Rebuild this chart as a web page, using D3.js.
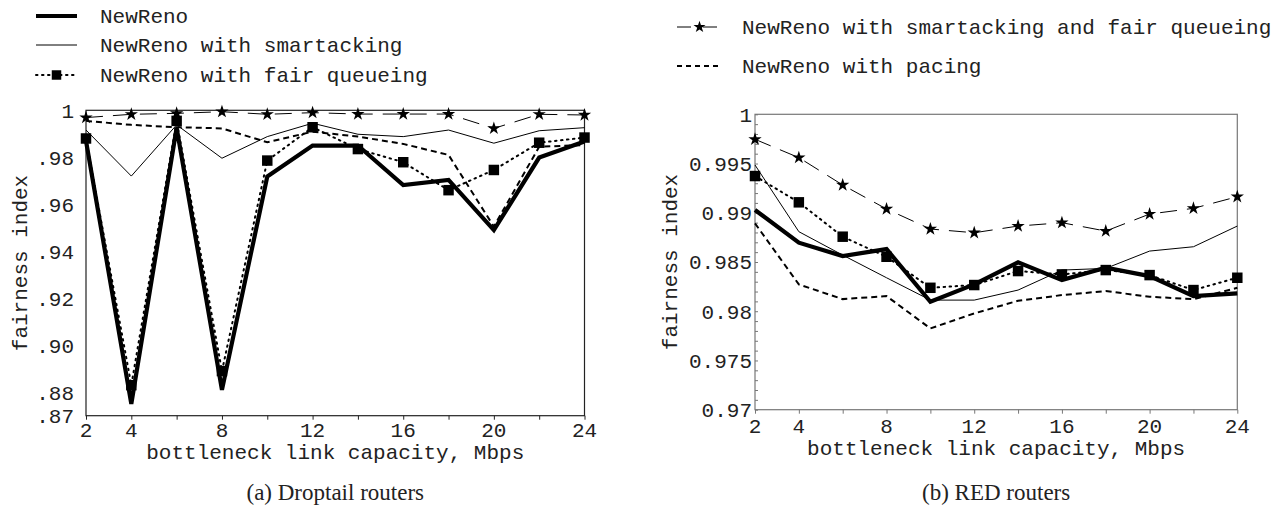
<!DOCTYPE html>
<html><head><meta charset="utf-8">
<script src="https://cdn.jsdelivr.net/npm/d3@7"></script>
<style>
body{margin:0;background:#fff;}
svg text{font-family:"Liberation Mono","DejaVu Sans Mono",monospace;fill:#222;}
</style></head>
<body><svg id="chart" width="1278" height="514"></svg>
<script>
// ---- data ----
const capacities = [2, 4, 6, 8, 10, 12, 14, 16, 18, 20, 22, 24];
const xTickLabels = [2, 4, 8, 12, 16, 20, 24];
const xTickMarks = [2, 4, 6, 8, 10, 12, 14, 16, 18, 20, 22, 24];

const seriesNames = ["NewReno", "NewReno with smartacking", "NewReno with fair queueing",
  "NewReno with smartacking and fair queueing", "NewReno with pacing"];

// (a) Droptail routers
const dtNewReno   = [0.987, 0.875, 0.9925, 0.881, 0.9718, 0.985, 0.985, 0.9682, 0.9704, 0.949, 0.9799, 0.9867];
const dtSmart     = [0.9916, 0.972, 0.9938, 0.9796, 0.9888, 0.9945, 0.9898, 0.9888, 0.9916, 0.986, 0.9913, 0.9926];
const dtFQ        = [0.988, 0.883, 0.9955, 0.889, 0.9786, 0.9928, 0.9835, 0.9779, 0.966, 0.9746, 0.9862, 0.9884];
const dtSmartFQ   = [0.9969, 0.9983, 0.9987, 0.9994, 0.9983, 0.999, 0.9984, 0.9984, 0.9984, 0.9923, 0.9983, 0.998];
const dtPacing    = [0.9955, 0.9938, 0.9928, 0.9923, 0.9864, 0.9909, 0.9888, 0.9857, 0.981, 0.9505, 0.9845, 0.9852];
const dtYTicks    = [1, 0.98, 0.96, 0.94, 0.92, 0.90, 0.88, 0.87];
const dtYLabels   = ["1", ".98", ".96", ".94", ".92", ".90", ".88", ".87"];

// (b) RED routers
const redNewReno  = [0.99028, 0.98696, 0.9856, 0.98631, 0.98096, 0.98272, 0.98496, 0.98316, 0.98442, 0.98357, 0.98154, 0.98181];
const redSmart    = [0.99485, 0.98808, 0.9857, 0.9834, 0.98113, 0.98113, 0.98215, 0.98418, 0.98435, 0.98611, 0.98655, 0.98865];
const redFQ       = [0.99373, 0.99106, 0.98757, 0.98553, 0.98238, 0.98266, 0.98408, 0.98374, 0.98418, 0.98367, 0.98215, 0.9834];
const redSmartFQ  = [0.99746, 0.9956, 0.99282, 0.99038, 0.98835, 0.98797, 0.98865, 0.98899, 0.98814, 0.98987, 0.99045, 0.99163];
const redPacing   = [0.98892, 0.98272, 0.98123, 0.98154, 0.97825, 0.97978, 0.98106, 0.98164, 0.98205, 0.98147, 0.98123, 0.98238];
const redYTicks   = [1, 0.995, 0.99, 0.985, 0.98, 0.975, 0.97];
const redYLabels  = ["1", "0.995", "0.99", "0.985", "0.98", "0.975", "0.97"];
const redYMinor   = d3.range(0, 31).map(i => 0.97 + i * 0.001);

const captions = ["(a) Droptail routers", "(b) RED routers"];
const xTitle = "bottleneck link capacity, Mbps";
const yTitle = "fairness index";

// ---- styles ----
const styles = {
  newreno: {width: 4.2, dash: null},
  smart:   {width: 1, dash: null},
  fq:      {width: 2, dash: "1.5,4.5", marker: "square"},
  smartfq: {width: 1, dash: "17,10", marker: "star"},
  pacing:  {width: 2, dash: "6,4"}
};

const svg = d3.select("#chart");
const FS = 21;

function drawPanel(cfg) {
  const x = d3.scaleLinear().domain([2, 24]).range([cfg.left, cfg.right]);
  const y = d3.scaleLinear().domain(cfg.yDomain).range([cfg.bottom, cfg.top]);
  const g = svg.append("g");

  g.append("rect").attr("x", cfg.left).attr("y", cfg.top)
    .attr("width", cfg.right - cfg.left).attr("height", cfg.bottom - cfg.top)
    .attr("fill", "none").attr("stroke", cfg.frame).attr("stroke-width", 1.2);

  const xAx = d3.axisBottom(x).tickValues(xTickMarks).tickSize(4).tickFormat("");
  const xg = g.append("g").attr("transform", `translate(0,${cfg.bottom})`).call(xAx);
  xg.select(".domain").remove();
  xg.selectAll("line").attr("stroke", cfg.frame);
  g.selectAll(".xl").data(xTickLabels).join("text")
    .attr("x", d => x(d)).attr("y", cfg.xLabelY).attr("text-anchor", "middle")
    .attr("font-size", FS).text(d => d);

  if (cfg.minor) {
    const yAx = d3.axisRight(y).tickValues(cfg.minor).tickSize(3).tickFormat("");
    const yg = g.append("g").attr("transform", `translate(${cfg.left},0)`).call(yAx);
    yg.select(".domain").remove();
    yg.selectAll("line").attr("stroke", cfg.frame);
  }
  g.selectAll(".yl").data(cfg.yTicks).join("text")
    .attr("x", cfg.yLabelX).attr("y", d => y(d)).attr("dy", "0.35em")
    .attr("text-anchor", "end").attr("font-size", FS)
    .text((d, i) => cfg.yLabels[i]);

  g.append("text").attr("x", (cfg.left + cfg.right) / 2).attr("y", cfg.xTitleY)
    .attr("text-anchor", "middle").attr("font-size", FS).text(xTitle);
  g.append("text").attr("transform", `translate(${cfg.yTitleX},${(cfg.top + cfg.bottom) / 2}) rotate(-90)`)
    .attr("dy", "0.35em").attr("text-anchor", "middle").attr("font-size", FS).text(yTitle);
  g.append("text").attr("x", (cfg.left + cfg.right) / 2).attr("y", 500)
    .attr("text-anchor", "middle").attr("font-size", 23)
    .style("font-family", "'Liberation Serif','Times New Roman',serif").text(cfg.caption);

  const line = d3.line().x((d, i) => x(capacities[i])).y(d => y(d));
  const order = [["newreno", cfg.data.newreno], ["smart", cfg.data.smart], ["pacing", cfg.data.pacing],
                 ["smartfq", cfg.data.smartfq], ["fq", cfg.data.fq]];
  order.forEach(([k, vals]) => {
    const s = styles[k];
    g.append("path").attr("d", line(vals)).attr("fill", "none").attr("stroke", "#000")
      .attr("stroke-width", s.width).attr("stroke-dasharray", s.dash)
      .attr("stroke-linejoin", "miter").attr("stroke-linecap", k === "fq" ? "round" : "butt");
    if (s.marker) {
      const sym = s.marker === "square" ? d3.symbol(d3.symbolSquare, 110) : d3.symbol(d3.symbolStar, 55);
      g.selectAll(null).data(vals).join("path").attr("d", sym)
        .attr("transform", (d, i) => `translate(${x(capacities[i])},${y(d)})`).attr("fill", "#000");
    }
  });
}

drawPanel({left: 86, right: 584.5, top: 110.3, bottom: 415.7, yDomain: [0.87, 1], frame: "#222",
  yTicks: dtYTicks, yLabels: dtYLabels, yLabelX: 74, xLabelY: 436.5, xTitleY: 458.5, yTitleX: 20,
  caption: captions[0],
  data: {newreno: dtNewReno, smart: dtSmart, fq: dtFQ, smartfq: dtSmartFQ, pacing: dtPacing}});

drawPanel({left: 755, right: 1237.3, top: 114.3, bottom: 409.7, yDomain: [0.97, 1], frame: "#777",
  yTicks: redYTicks, yLabels: redYLabels, yLabelX: 752, xLabelY: 432.5, xTitleY: 454.5, yTitleX: 670,
  minor: redYMinor, caption: captions[1],
  data: {newreno: redNewReno, smart: redSmart, fq: redFQ, smartfq: redSmartFQ, pacing: redPacing}});

// ---- legends ----
const legendItems = [
  {key: "newreno", name: seriesNames[0], x0: 36, x1: 77, tx: 100, y: 16},
  {key: "smart", name: seriesNames[1], x0: 36, x1: 77, tx: 100, y: 45},
  {key: "fq", name: seriesNames[2], x0: 36, x1: 77, tx: 100, y: 75},
  {key: "smartfq", name: seriesNames[3], x0: 677, x1: 722, tx: 742, y: 27},
  {key: "pacing", name: seriesNames[4], x0: 677, x1: 722, tx: 742, y: 66}
];
const lg = svg.append("g");
legendItems.forEach(it => {
  const s = styles[it.key];
  let dash = s.dash;
  if (it.key === "smartfq") dash = "14,12";
  if (it.key === "pacing") dash = "5,4";
  lg.append("line").attr("x1", it.x0).attr("x2", it.x1).attr("y1", it.y).attr("y2", it.y)
    .attr("stroke", "#000").attr("stroke-width", s.width).attr("stroke-dasharray", dash)
    .attr("stroke-linecap", it.key === "fq" ? "round" : "butt");
  if (s.marker) {
    const sym = s.marker === "square" ? d3.symbol(d3.symbolSquare, 90) : d3.symbol(d3.symbolStar, 45);
    lg.append("path").attr("d", sym).attr("transform", `translate(${(it.x0 + it.x1) / 2},${it.y})`).attr("fill", "#000");
  }
  lg.append("text").attr("x", it.tx).attr("y", it.y).attr("dy", "0.35em").attr("font-size", FS).text(it.name);
});
</script></body></html>
